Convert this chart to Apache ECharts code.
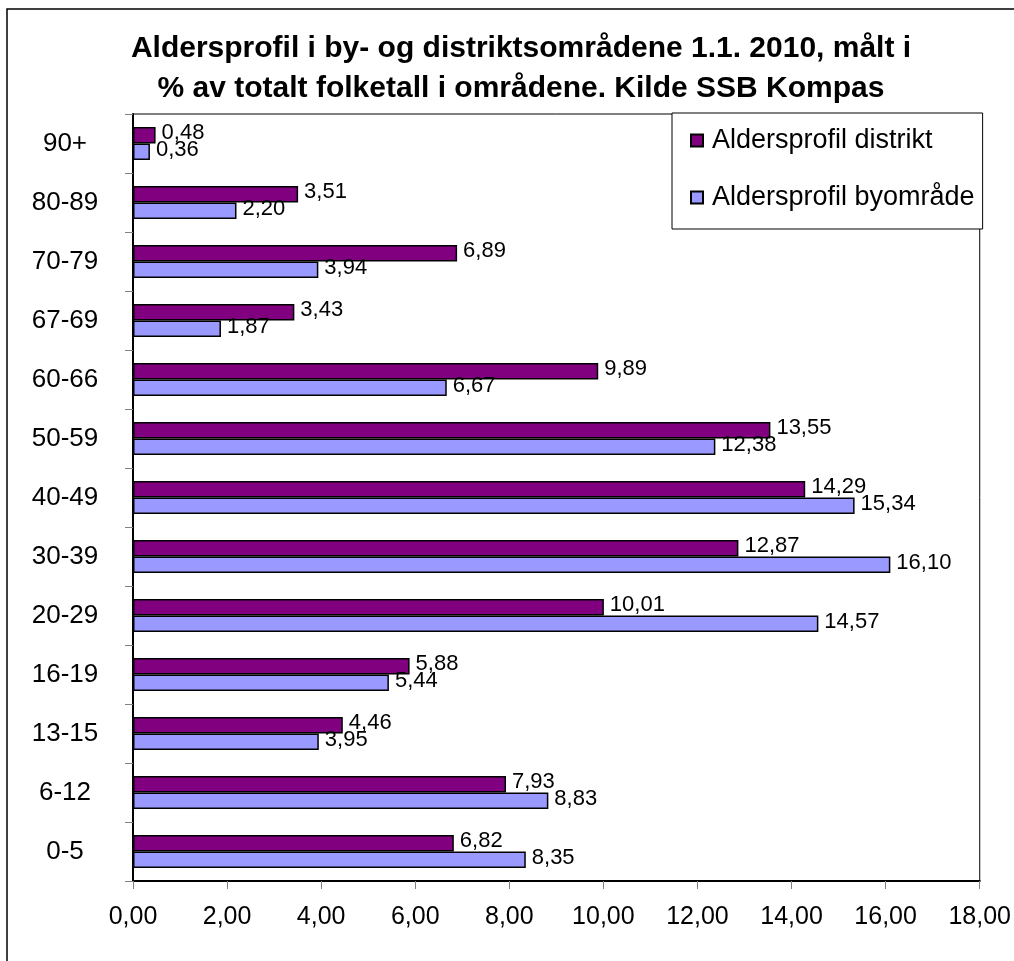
<!DOCTYPE html>
<html>
<head>
<meta charset="utf-8">
<script src="https://cdn.jsdelivr.net/npm/echarts@6/dist/echarts.min.js"></script>
<style>
  html, body { margin: 0; padding: 0; background: #fff; }
  #chart { width: 1014px; height: 961px; }
</style>
</head>
<body>
<div id="chart"></div>
<script>
// aldersgrupper, nederst først
var categories = ["0-5", "6-12", "13-15", "16-19", "20-29", "30-39", "40-49", "50-59", "60-66", "67-69", "70-79", "80-89", "90+"];
var distrikt = [6.82, 7.93, 4.46, 5.88, 10.01, 12.87, 14.29, 13.55, 9.89, 3.43, 6.89, 3.51, 0.48];
var byomrade = [8.35, 8.83, 3.95, 5.44, 14.57, 16.10, 15.34, 12.38, 6.67, 1.87, 3.94, 2.20, 0.36];
var xTicks = [0, 2, 4, 6, 8, 10, 12, 14, 16, 18];

var font = "Arial, 'Liberation Sans', sans-serif";
function komma(v) {
  return v.toFixed(2).replace(".", ",");
}

var chart = echarts.init(document.getElementById("chart"));
var option = {
  animation: false,
  textStyle: { fontFamily: font, color: "#000" },
  title: {
    text: "Aldersprofil i by- og distriktsområdene 1.1. 2010, målt i\n% av totalt folketall i områdene. Kilde SSB Kompas",
    left: 516,
    top: 24,
    textAlign: "center",
    textStyle: { fontFamily: font, fontSize: 30, fontWeight: "bold", color: "#000", lineHeight: 40 }
  },
  graphic: [
    {
      type: "rect",
      shape: { x: 7, y: 9, width: 1100, height: 1100 },
      style: { fill: "none", stroke: "#000", lineWidth: 1.5 },
      z: 100
    }
  ],
  legend: {
    orient: "vertical",
    left: 672,
    top: 113,
    padding: [14, 8, 18, 18],
    itemGap: 30,
    itemWidth: 12,
    itemHeight: 12,
    backgroundColor: "#fff",
    borderColor: "#000",
    borderWidth: 1,
    z: 10,
    icon: "rect",
    textStyle: { fontFamily: font, fontSize: 27, color: "#000", padding: [0, 0, 0, 4] },
    data: ["Aldersprofil distrikt", "Aldersprofil byområde"]
  },
  grid: {
    left: 133,
    right: 32,
    top: 114,
    bottom: 80,
    show: true,
    borderColor: "#000",
    borderWidth: 1
  },
  xAxis: {
    type: "value",
    min: 0,
    max: 18,
    interval: 2,
    axisLine: { show: true, lineStyle: { color: "#000", width: 2 } },
    axisTick: { show: true, length: 8, lineStyle: { color: "#808080" } },
    splitLine: { show: false },
    axisLabel: {
      margin: 24,
      fontSize: 25,
      color: "#000",
      fontFamily: font,
      formatter: function (v) { return komma(v); }
    }
  },
  yAxis: {
    type: "category",
    data: categories,
    axisLine: { show: true, lineStyle: { color: "#000", width: 2 } },
    axisTick: { show: true, length: 8, lineStyle: { color: "#808080" } },
    axisLabel: { margin: 68, align: "center", fontSize: 26, color: "#000", fontFamily: font }
  },
  series: [
    {
      name: "Aldersprofil distrikt",
      type: "bar",
      data: distrikt,
      barGap: "0%",
      barCategoryGap: "44%",
      itemStyle: { color: "#800080", borderColor: "#000", borderWidth: 1.5 },
      label: {
        show: true,
        position: "right",
        distance: 6,
        offset: [0, -2],
        fontSize: 22,
        color: "#000",
        fontFamily: font,
        formatter: function (p) { return komma(p.value); }
      }
    },
    {
      name: "Aldersprofil byområde",
      type: "bar",
      data: byomrade,
      itemStyle: { color: "#9999FF", borderColor: "#000", borderWidth: 1.5 },
      label: {
        show: true,
        position: "right",
        distance: 6,
        offset: [0, -2],
        fontSize: 22,
        color: "#000",
        fontFamily: font,
        formatter: function (p) { return komma(p.value); }
      }
    }
  ]
};
chart.setOption(option);
</script>
</body>
</html>
